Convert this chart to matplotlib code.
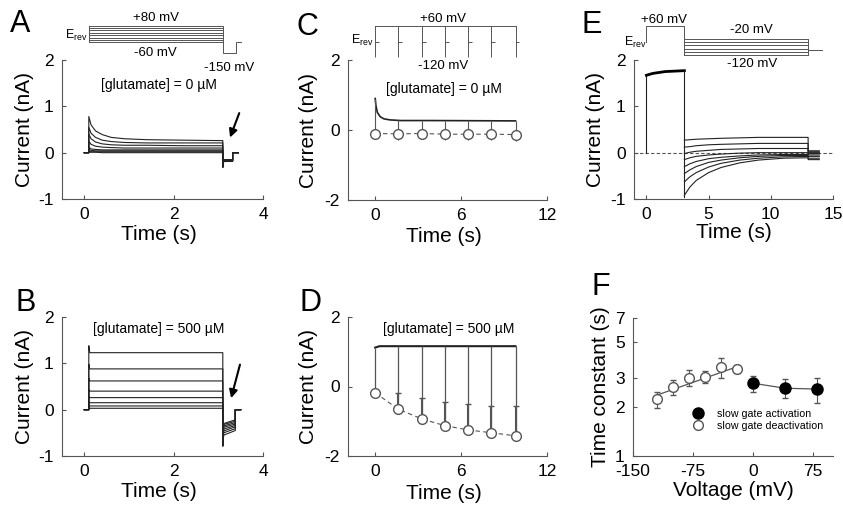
import matplotlib
matplotlib.use("Agg")
import matplotlib.pyplot as plt
from matplotlib.ticker import NullLocator
from matplotlib.lines import Line2D
import numpy as np

plt.rcParams['font.family'] = ['Liberation Sans', 'DejaVu Sans']
plt.rcParams['mathtext.fontset'] = 'custom'
plt.rcParams['mathtext.rm'] = 'Liberation Sans'
plt.rcParams['mathtext.it'] = 'Liberation Sans:italic'
plt.rcParams['axes.unicode_minus'] = False

W, H = 843, 512
GRAY = '#555555'

# ---------------------------------------------------------------- data
# A: 0 uM glutamate, steps from +80 to -60 mV, tail at -150 mV
a_levels = [80, 60, 40, 20, 0, -20, -40, -60]
a_t = [0.1, 0.15, 0.25, 0.4, 0.6, 0.9, 1.4, 2.2, 3.1]
a_i = [
    [0.78, 0.60, 0.47, 0.39, 0.33, 0.30, 0.28, 0.27, 0.26],
    [0.55, 0.42, 0.33, 0.27, 0.24, 0.22, 0.21, 0.21, 0.21],
    [0.40, 0.30, 0.23, 0.19, 0.17, 0.16, 0.16, 0.15, 0.15],
    [0.25, 0.18, 0.14, 0.12, 0.11, 0.10, 0.10, 0.10, 0.10],
    [0.12, 0.08, 0.07, 0.06, 0.06, 0.06, 0.06, 0.06, 0.06],
    [0.07, 0.05, 0.04, 0.04, 0.04, 0.04, 0.04, 0.04, 0.04],
    [0.03, 0.02, 0.02, 0.02, 0.02, 0.02, 0.02, 0.02, 0.02],
    [0.01, 0.01, 0.01, 0.00, 0.00, 0.00, 0.00, 0.00, 0.00],
]
a_spike = -0.31
a_tail = [-0.19, -0.18, -0.18, -0.17, -0.17, -0.16, -0.16, -0.15]
a_tail_t = [3.1, 3.12, 3.32, 3.45]

# B: 500 uM glutamate
b_peak = [1.38, 0.98, 0.68, 0.44, 0.28, 0.16, 0.09, 0.03]
b_level = [1.23, 0.88, 0.62, 0.40, 0.26, 0.15, 0.08, 0.03]
b_spike = -0.78
b_tail_start = [-0.55, -0.50, -0.46, -0.42, -0.38, -0.35, -0.32, -0.30]
b_tail_end = [-0.45, -0.41, -0.37, -0.34, -0.31, -0.28, -0.25, -0.22]
b_tail_t = [3.1, 3.12, 3.38, 3.5]

# C / D: pulses to -120 mV from +60 mV
pulse_t = [0, 1.6, 3.3, 4.9, 6.5, 8.1, 9.8]
c_t = [0, 0.05, 0.15, 0.35, 0.6, 1.0, 1.8, 4.0, 9.8]
c_i = [0.90, 0.70, 0.50, 0.38, 0.32, 0.29, 0.27, 0.27, 0.26]
c_peak = [-0.10, -0.11, -0.10, -0.12, -0.12, -0.12, -0.13]
c_err = [0.17, 0.17, 0.17, 0.17, 0.17, 0.17, 0.17]

d_t = [0, 0.3, 9.8]
d_i = [1.12, 1.16, 1.16]
d_peak = [-0.18, -0.65, -0.94, -1.13, -1.25, -1.33, -1.42]
d_err = [0.0, 0.45, 0.60, 0.69, 0.75, 0.77, 0.86]

# E: +60 mV prepulse, then -20 .. -120 mV
e_levels = [-20, -40, -60, -80, -100, -120]
e_pre_t = [0, 0, 0.5, 1.5, 3.05, 3.05]
e_pre_i = [0, 1.67, 1.71, 1.75, 1.77, -0.95]
e_t = [3.05, 3.5, 4, 5, 6, 7.5, 9, 11, 13.0]
e_i = [
    [0.27, 0.28, 0.29, 0.30, 0.31, 0.32, 0.33, 0.33, 0.33],
    [0.12, 0.13, 0.15, 0.17, 0.18, 0.19, 0.20, 0.20, 0.20],
    [-0.02, 0.01, 0.03, 0.05, 0.07, 0.08, 0.09, 0.09, 0.09],
    [-0.15, -0.11, -0.08, -0.05, -0.03, -0.01, 0.00, 0.00, 0.00],
    [-0.30, -0.24, -0.19, -0.13, -0.10, -0.07, -0.05, -0.04, -0.04],
    [-0.45, -0.37, -0.30, -0.21, -0.16, -0.11, -0.08, -0.06, -0.06],
    [-0.63, -0.52, -0.43, -0.31, -0.23, -0.16, -0.12, -0.09, -0.08],
    [-0.92, -0.74, -0.60, -0.43, -0.32, -0.22, -0.16, -0.12, -0.11],
]
e_tail = [0.04, 0.02, 0.0, -0.02, -0.05, -0.08, -0.12, -0.15]
e_tail_t = [13.0, 13.9]

# F: time constants
f_v_deact = [-120, -100, -80, -60, -40, -20]
f_tau_deact = [2.22, 2.64, 3.02, 3.06, 3.49, 3.41]
f_err_deact = [0.26, 0.29, 0.33, 0.26, 0.50, 0.20]
f_fit_v = [-120, -20]
f_fit_tau = [2.36, 3.52]
f_v_act = [0, 40, 80]
f_tau_act = [2.79, 2.60, 2.57]
f_err_act = [0.31, 0.35, 0.45]


# ---------------------------------------------------------------- helpers
def box(l, t, r, b):
    return [l / W, 1 - b / H, (r - l) / W, (b - t) / H]


def estilo(ax):
    for s in ['top', 'right']:
        ax.spines[s].set_visible(False)
    for s in ['left', 'bottom']:
        ax.spines[s].set_color(GRAY)
        ax.spines[s].set_linewidth(0.8)
    ax.tick_params(direction='in', length=3, width=0.8, color=GRAY,
                   labelsize=12.5, pad=6)


def proto(fig, ax, top, bot, ylim):
    pos = ax.get_position()
    p = fig.add_axes([pos.x0, 1 - bot / H, pos.width, (bot - top) / H])
    p.set_xlim(ax.get_xlim())
    p.set_ylim(ylim)
    p.axis('off')
    return p


fig = plt.figure(figsize=(W / 100, H / 100), dpi=100)

lw_tr = 0.8
tc = '#222222'

# ---------------------------------------------------------------- A
ax = fig.add_axes(box(62, 60, 263, 199))
estilo(ax)
for k in range(len(a_i)):
    x = [0, a_t[0]] + a_t + [a_tail_t[0], a_tail_t[1], a_tail_t[2], a_tail_t[2], a_tail_t[3]]
    y = [0, 0] + a_i[k] + [a_spike, a_tail[k], a_tail[k], 0, 0]
    ax.plot(x, y, color=tc, lw=lw_tr)
ax.set_xlim(-0.5, 4)
ax.set_ylim(-1, 2)
ax.set_xticks([0, 2, 4])
ax.set_yticks([-1, 0, 1, 2])
ax.set_xlabel('Time (s)', fontsize=15)
ax.set_ylabel('Current (nA)', fontsize=15)
ax.xaxis.set_label_coords(0.48, -0.19)
ax.yaxis.set_label_coords(-0.14, 0.5)
ax.text(1.66, 1.45, '[glutamate] = 0 µM', ha='center', va='center', fontsize=10)
ax.annotate('', xy=(3.24, 0.27), xytext=(3.49, 0.91),
            arrowprops=dict(arrowstyle='-|>', color='k', lw=1.5, mutation_scale=12))

p = proto(fig, ax, 5, 60, (-209, 254.5))
for v in a_levels:
    p.plot([0.1, 3.1], [v, v], color=GRAY, lw=0.7)
p.plot([0.1, 0.1], [min(a_levels), max(a_levels)], color=GRAY, lw=0.7)
p.plot([3.1, 3.1, 3.4, 3.4, 3.5], [max(a_levels), -150, -150, -55, -55], color=GRAY, lw=0.7)
p.text(1.6, 145, '+80 mV', ha='center', va='center', fontsize=9.5)
p.text(1.6, -150, '-60 mV', ha='center', va='center', fontsize=9.5)
p.text(3.24, -277, '-150 mV', ha='center', va='center', fontsize=9.5)
p.text(0.08, 0, r'E$_{\rm rev}$', ha='right', va='center', fontsize=9)

# ---------------------------------------------------------------- B
ax = fig.add_axes(box(62, 317, 263, 456))
estilo(ax)
for k in range(len(b_level)):
    x = [0, 0.1, 0.1, 0.12, b_tail_t[0], b_tail_t[0], b_tail_t[1], b_tail_t[2], b_tail_t[2], b_tail_t[3]]
    y = [0, 0, b_peak[k], b_level[k], b_level[k], b_spike, b_tail_start[k], b_tail_end[k], 0, 0]
    ax.plot(x, y, color=tc, lw=lw_tr)
ax.set_xlim(-0.5, 4)
ax.set_ylim(-1, 2)
ax.set_xticks([0, 2, 4])
ax.set_yticks([-1, 0, 1, 2])
ax.set_xlabel('Time (s)', fontsize=15)
ax.set_ylabel('Current (nA)', fontsize=15)
ax.xaxis.set_label_coords(0.48, -0.19)
ax.yaxis.set_label_coords(-0.14, 0.5)
ax.text(1.66, 1.75, '[glutamate] = 500 µM', ha='center', va='center', fontsize=10)
ax.annotate('', xy=(3.27, 0.19), xytext=(3.5, 1.03),
            arrowprops=dict(arrowstyle='-|>', color='k', lw=1.5, mutation_scale=12))

# ---------------------------------------------------------------- C
ax = fig.add_axes(box(348, 60, 547, 200))
estilo(ax)
ax.plot(c_t, c_i, color=tc, lw=1.2)
ax.vlines(pulse_t, c_peak, np.interp(pulse_t, c_t, c_i), color=GRAY, lw=0.8)
ax.errorbar(pulse_t, c_peak, yerr=c_err, fmt='o', ms=7, mfc='white', mec=GRAY,
            ecolor=GRAY, elinewidth=0.8, capsize=0, zorder=3)
ax.plot(pulse_t, c_peak, color=GRAY, lw=0.8, ls=(0, (4, 3)), zorder=2)
ax.set_xlim(-1.9, 12)
ax.set_ylim(-2, 2)
ax.set_xticks([0, 6, 12])
ax.set_yticks([-2, 0, 2])
ax.set_xlabel('Time (s)', fontsize=15)
ax.set_ylabel('Current (nA)', fontsize=15)
ax.xaxis.set_label_coords(0.48, -0.19)
ax.yaxis.set_label_coords(-0.15, 0.5)
ax.text(4.8, 1.17, '[glutamate] = 0 µM', ha='center', va='center', fontsize=10)

p = proto(fig, ax, 5, 60, (-137.4, 182))
p.plot([pulse_t[0], pulse_t[-1]], [60, 60], color=GRAY, lw=0.7)
p.vlines(pulse_t, -120, 60, color=GRAY, lw=0.7)
p.hlines([-30] * len(pulse_t), pulse_t, np.array(pulse_t) + 0.25, color=GRAY, lw=0.7)
p.text(4.77, 100, '+60 mV', ha='center', va='center', fontsize=9.5)
p.text(4.77, -172, '-120 mV', ha='center', va='center', fontsize=9.5)
p.text(-0.1, -21, r'E$_{\rm rev}$', ha='right', va='center', fontsize=9)

# ---------------------------------------------------------------- D
ax = fig.add_axes(box(348, 317, 547, 456))
estilo(ax)
ax.plot(d_t, d_i, color=tc, lw=1.5)
ax.vlines(pulse_t, d_peak, np.interp(pulse_t, d_t, d_i), color=GRAY, lw=0.9)
ax.errorbar(pulse_t, d_peak, yerr=[np.zeros(len(d_err)), d_err], fmt='o', ms=7,
            mfc='white', mec=GRAY, ecolor=GRAY, elinewidth=1.5, capsize=2, zorder=3)
ax.plot(pulse_t, d_peak, color=GRAY, lw=0.8, ls=(0, (4, 3)), zorder=2)
ax.set_xlim(-1.9, 12)
ax.set_ylim(-2, 2)
ax.set_xticks([0, 6, 12])
ax.set_yticks([-2, 0, 2])
ax.set_xlabel('Time (s)', fontsize=15)
ax.set_ylabel('Current (nA)', fontsize=15)
ax.xaxis.set_label_coords(0.48, -0.2)
ax.yaxis.set_label_coords(-0.15, 0.5)
ax.text(5.1, 1.66, '[glutamate] = 500 µM', ha='center', va='center', fontsize=10)

# ---------------------------------------------------------------- E
ax = fig.add_axes(box(634, 60, 833, 199))
estilo(ax)
ax.axhline(0, color=GRAY, lw=0.8, ls=(0, (3, 2)))
ax.plot(e_pre_t[:2], e_pre_i[:2], color=tc, lw=0.8)
ax.plot(e_pre_t[1:5], e_pre_i[1:5], color='k', lw=2)
ax.plot(e_pre_t[4:], e_pre_i[4:], color=tc, lw=0.8)
for k in range(len(e_i)):
    x = e_t + [e_tail_t[0], e_tail_t[1]]
    y = e_i[k] + [e_tail[k], e_tail[k]]
    ax.plot(x, y, color=tc, lw=lw_tr)
ax.set_xlim(-1, 15)
ax.set_ylim(-1, 2)
ax.set_xticks([0, 5, 10, 15])
ax.set_yticks([-1, 0, 1, 2])
ax.set_xlabel('Time (s)', fontsize=15)
ax.set_ylabel('Current (nA)', fontsize=15)
ax.xaxis.set_label_coords(0.5, -0.175)
ax.yaxis.set_label_coords(-0.146, 0.5)

p = proto(fig, ax, 5, 60, (-151, 190.4))
p.plot([0, 0, 3.05, 3.05], [-40, 60, 60, min(e_levels)], color=GRAY, lw=0.7)
for v in e_levels:
    p.plot([3.05, 13.0], [v, v], color=GRAY, lw=0.7)
p.plot([13.0, 13.0], [min(e_levels), max(e_levels)], color=GRAY, lw=0.7)
p.plot([13.0, 14.1], [-90, -90], color=GRAY, lw=0.7)
p.text(1.45, 97, '+60 mV', ha='center', va='center', fontsize=9.5)
p.text(8.4, 38, '-20 mV', ha='center', va='center', fontsize=9.5)
p.text(8.5, -176, '-120 mV', ha='center', va='center', fontsize=9.5)
p.text(0, -39, r'E$_{\rm rev}$', ha='right', va='center', fontsize=9)

# ---------------------------------------------------------------- F
ax = fig.add_axes(box(633, 318, 833, 456))
estilo(ax)
ax.set_yscale('log')
ax.plot(f_fit_v, f_fit_tau, color=GRAY, lw=0.9)
ax.errorbar(f_v_deact, f_tau_deact, yerr=f_err_deact, fmt='o', ms=7, mfc='white',
            mec=GRAY, ecolor=GRAY, elinewidth=0.8, capsize=2, zorder=3)
ax.plot(f_v_act, f_tau_act, color=GRAY, lw=0.9)
ax.errorbar(f_v_act, f_tau_act, yerr=f_err_act, fmt='o', ms=8, mfc='k', mec='k',
            ecolor=GRAY, elinewidth=0.8, capsize=2, zorder=3)
ax.set_xlim(-150, 100)
ax.set_ylim(1, 7)
ax.set_xticks([-150, -75, 0, 75])
ax.set_yticks([1, 2, 3, 5, 7])
ax.set_yticklabels(['1', '2', '3', '5', '7'])
ax.yaxis.set_minor_locator(NullLocator())
ax.set_xlabel('Voltage (mV)', fontsize=15)
ax.set_ylabel('Time constant (s)', fontsize=15)
ax.xaxis.set_label_coords(0.5, -0.18)
ax.yaxis.set_label_coords(-0.115, 0.5)
handles = [Line2D([], [], ls='none', marker='o', ms=8, mfc='k', mec='k'),
           Line2D([], [], ls='none', marker='o', ms=7, mfc='white', mec=GRAY)]
ax.legend(handles, ['slow gate activation', 'slow gate deactivation'],
          loc='upper left', bbox_to_anchor=(0.27, 0.34), frameon=False,
          fontsize=7.7, handletextpad=0.8, labelspacing=0.2,
          borderpad=0, borderaxespad=0)

# ---------------------------------------------------------------- letters
for letra, (x, y) in {'A': (10, 9), 'C': (297, 12), 'E': (582, 10),
                      'B': (15, 288), 'D': (300, 288), 'F': (592, 272)}.items():
    fig.text(x / W, 1 - y / H, letra, fontsize=22, ha='left', va='top')

fig.savefig('out.png', dpi=100)
